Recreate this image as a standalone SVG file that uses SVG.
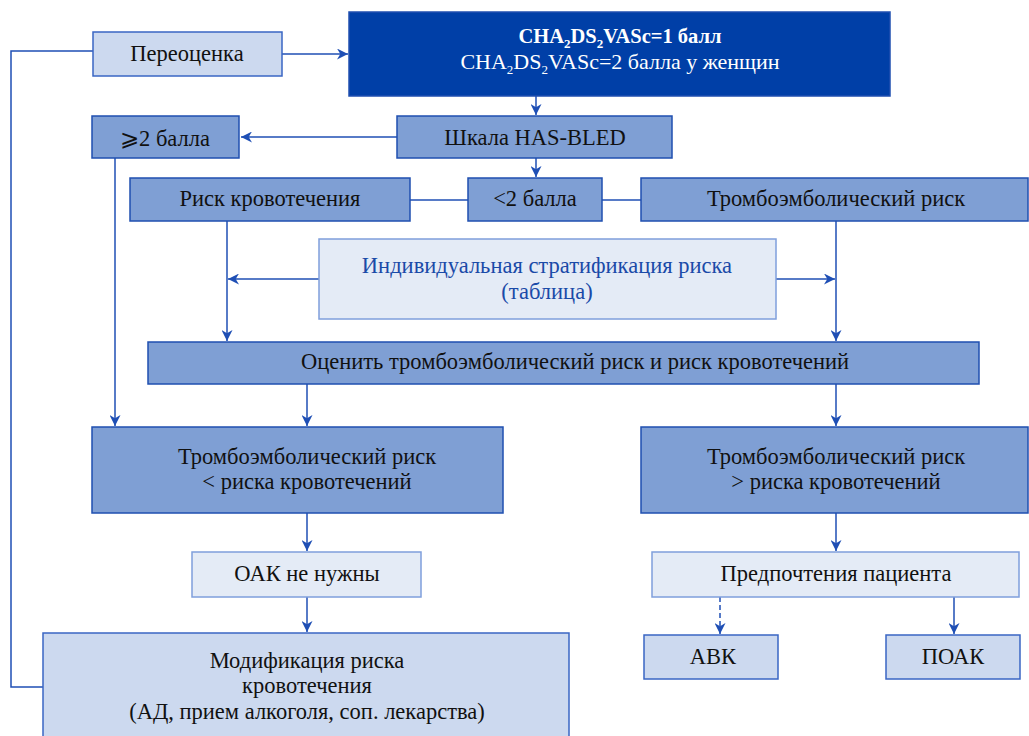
<svg xmlns="http://www.w3.org/2000/svg" width="1029" height="736" viewBox="0 0 1029 736">
<style>
text{font-family:"Liberation Serif","Times New Roman",serif;font-size:22.5px;fill:#111;text-anchor:middle}
.dark{fill:#003fa7;stroke:#1f4fb0;stroke-width:1.5}
.mid{fill:#7f9fd4;stroke:#1f4fb0;stroke-width:1.5}
.light{fill:#ccd9ef;stroke:#3a66c4;stroke-width:1.5}
.pale{fill:#e4ebf6;stroke:#7f9fdc;stroke-width:1.5}
text.w{fill:#fff}
text.t1{font-size:20.5px;font-weight:bold}
text.t2{font-size:22px}
.b{fill:#1a4aa8}
.c{fill:none;stroke:#1f4fb5;stroke-width:1.5}
.d{stroke-dasharray:5 3}
tspan.s{font-size:13px}
</style>
<defs>
<marker id="a" viewBox="0 0 10 10" refX="10" refY="5" markerWidth="11" markerHeight="11" markerUnits="userSpaceOnUse" orient="auto">
<path d="M0,0 L10,5 L0,10 L3,5 Z" fill="#1f4fb5"/>
</marker>
</defs>
<g id="connectors">
<path class="c" d="M93,51 H11 V687 H43"/>
<path class="c" d="M282,54 H348" marker-end="url(#a)"/>
<path class="c" d="M536,96 V115" marker-end="url(#a)"/>
<path class="c" d="M397,137 H241" marker-end="url(#a)"/>
<path class="c" d="M536,158 V177" marker-end="url(#a)"/>
<path class="c" d="M410,200 H468"/>
<path class="c" d="M602,200 H641"/>
<path class="c" d="M115,158 V426" marker-end="url(#a)"/>
<path class="c" d="M227,221 V341" marker-end="url(#a)"/>
<path class="c" d="M836,221 V341" marker-end="url(#a)"/>
<path class="c" d="M319,279 H228" marker-end="url(#a)"/>
<path class="c" d="M776,279 H835" marker-end="url(#a)"/>
<path class="c" d="M307,384 V426" marker-end="url(#a)"/>
<path class="c" d="M836,384 V426" marker-end="url(#a)"/>
<path class="c" d="M307,513 V551" marker-end="url(#a)"/>
<path class="c" d="M307,597 V632" marker-end="url(#a)"/>
<path class="c" d="M836,513 V551" marker-end="url(#a)"/>
<path class="c d" d="M720,597 V634" marker-end="url(#a)"/>
<path class="c" d="M954,597 V634" marker-end="url(#a)"/>
</g>
<g id="reassess"><rect class="light" x="93" y="32" width="189" height="44"/><text x="187" y="61">Переоценка</text></g>
<g id="cha2ds2vasc"><rect class="dark" x="349" y="12" width="541" height="84"/>
<text class="w t1" x="620" y="43">CHA<tspan class="s" dy="5">2</tspan><tspan dy="-5">DS</tspan><tspan class="s" dy="5">2</tspan><tspan dy="-5">VASc=1 балл</tspan></text>
<text class="w t2" x="620" y="69">CHA<tspan class="s" dy="5">2</tspan><tspan dy="-5">DS</tspan><tspan class="s" dy="5">2</tspan><tspan dy="-5">VASc=2 балла у женщин</tspan></text></g>
<g id="ge2"><rect class="mid" x="92" y="116" width="147" height="42"/><text x="165" y="146">⩾2 балла</text></g>
<g id="hasbled"><rect class="mid" x="397" y="116" width="275" height="42"/><text x="535" y="145">Шкала HAS-BLED</text></g>
<g id="bleedrisk"><rect class="mid" x="130" y="178" width="280" height="43"/><text x="270" y="206">Риск кровотечения</text></g>
<g id="lt2"><rect class="mid" x="468" y="178" width="134" height="43"/><text x="535" y="206">&lt;2 балла</text></g>
<g id="thrombo"><rect class="mid" x="641" y="178" width="387" height="43"/><text x="836" y="206">Тромбоэмболический риск</text></g>
<g id="individual"><rect class="pale" x="319" y="239" width="457" height="80"/><text class="b" x="547" y="273">Индивидуальная стратификация риска</text><text class="b" x="547" y="299">(таблица)</text></g>
<g id="assess"><rect class="mid" x="148" y="342" width="831" height="42"/><text x="575" y="369">Оценить тромбоэмболический риск и риск кровотечений</text></g>
<g id="lessrisk"><rect class="mid" x="92" y="427" width="411" height="86"/><text x="307" y="464">Тромбоэмболический риск</text><text x="307" y="489">&lt; риска кровотечений</text></g>
<g id="morerisk"><rect class="mid" x="641" y="427" width="387" height="86"/><text x="836" y="464">Тромбоэмболический риск</text><text x="836" y="489">&gt; риска кровотечений</text></g>
<g id="noOAC"><rect class="pale" x="192" y="552" width="229" height="45"/><text x="307" y="581">ОАК не нужны</text></g>
<g id="modify"><rect class="light" x="43" y="633" width="526" height="110"/><text x="307" y="668">Модификация риска</text><text x="307" y="693">кровотечения</text><text x="307" y="719">(АД, прием алкоголя, соп. лекарства)</text></g>
<g id="preference"><rect class="pale" x="652" y="552" width="367" height="45"/><text x="836" y="581">Предпочтения пациента</text></g>
<g id="vka"><rect class="light" x="644" y="635" width="134" height="44"/><text x="713" y="664">АВК</text></g>
<g id="noac"><rect class="light" x="886" y="635" width="134" height="44"/><text x="953" y="664">ПОАК</text></g>
</svg>
